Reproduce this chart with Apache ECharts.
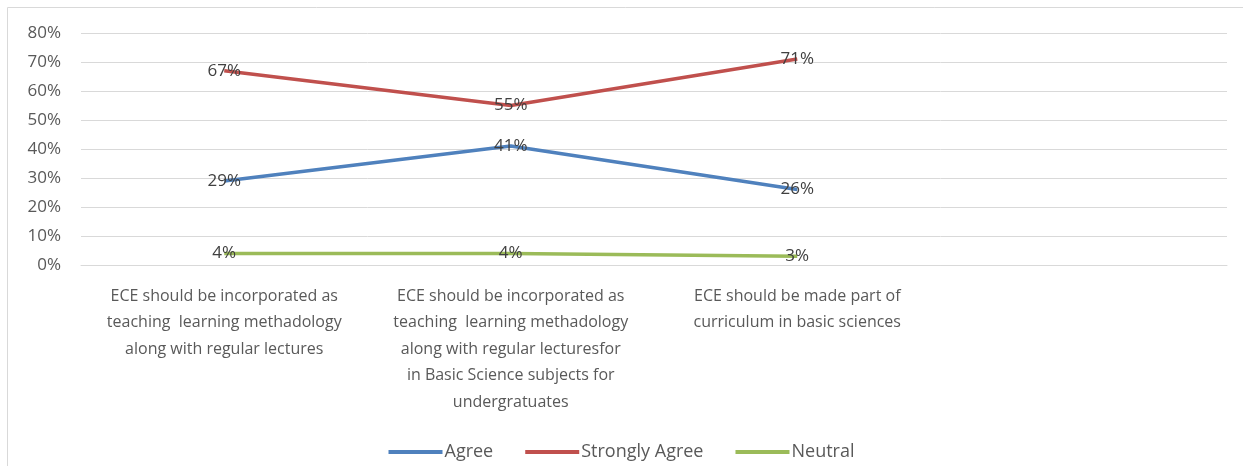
<!DOCTYPE html>
<html>
<head>
<meta charset="utf-8">
<script src="https://cdn.jsdelivr.net/npm/echarts@6/dist/echarts.min.js"></script>
<style>html,body{margin:0;padding:0;background:#fff;}#c{width:1243px;height:466px;}</style>
</head>
<body>
<div id="c"></div>
<script>
const categories = [
  "ECE should be incorporated as\nteaching  learning methadology\nalong with regular lectures",
  "ECE should be incorporated as\nteaching  learning methadology\nalong with regular lecturesfor\nin Basic Science subjects for\nundergratuates",
  "ECE should be made part of\ncurriculum in basic sciences",
  ""
];
const agree = [29, 41, 26];
const stronglyAgree = [67, 55, 71];
const neutral = [4, 4, 3];
const yTicks = [0, 10, 20, 30, 40, 50, 60, 70, 80];

const font = "'Open Sans', 'Liberation Sans', sans-serif";
const chart = echarts.init(document.getElementById('c'), null, {renderer: 'canvas'});
function mk(name, data, color) {
  return {
    name, type: 'line', data, symbol: 'circle', symbolSize: 0.1, showSymbol: true, smooth: false,
    lineStyle: {width: 3.5, color}, itemStyle: {color},
    label: {show: true, position: 'inside', formatter: p => p.value + '%', color: '#404040', fontSize: 17, fontFamily: font},
    emphasis: {disabled: true}, animation: false
  };
}
chart.setOption({
  animation: false,
  graphic: [{type: 'rect', shape: {x: 7.5, y: 7.5, width: 1240, height: 470}, style: {fill: 'none', stroke: '#d9d9d9', lineWidth: 1}, silent: true}],
  grid: {left: 81, right: 16, top: 33, bottom: 201},
  legend: {
    bottom: 0, left: 'center', itemWidth: 54, itemHeight: 4, itemGap: 32,
    icon: 'rect',
    textStyle: {color: '#595959', fontSize: 18, fontFamily: font, padding: [0,0,0,-3]},
    data: ['Agree', 'Strongly Agree', 'Neutral']
  },
  xAxis: {
    type: 'category', data: categories, boundaryGap: true,
    axisLine: {show: true, lineStyle: {color: '#d9d9d9'}}, axisTick: {show: false},
    axisLabel: {interval: 0, color: '#595959', fontSize: 16, fontFamily: font, lineHeight: 26.5, margin: 18}
  },
  yAxis: {
    type: 'value', min: 0, max: 80, interval: 10,
    axisLabel: {formatter: v => yTicks.includes(v) ? v + '%' : '', color: '#595959', fontSize: 17, fontFamily: font, margin: 20},
    axisLine: {show: false}, axisTick: {show: false},
    splitLine: {lineStyle: {color: '#d9d9d9', width: 1}}
  },
  series: [
    mk('Agree', agree, '#4f81bd'),
    mk('Strongly Agree', stronglyAgree, '#c0504d'),
    mk('Neutral', neutral, '#9bbb59')
  ]
});
</script>
</body>
</html>
